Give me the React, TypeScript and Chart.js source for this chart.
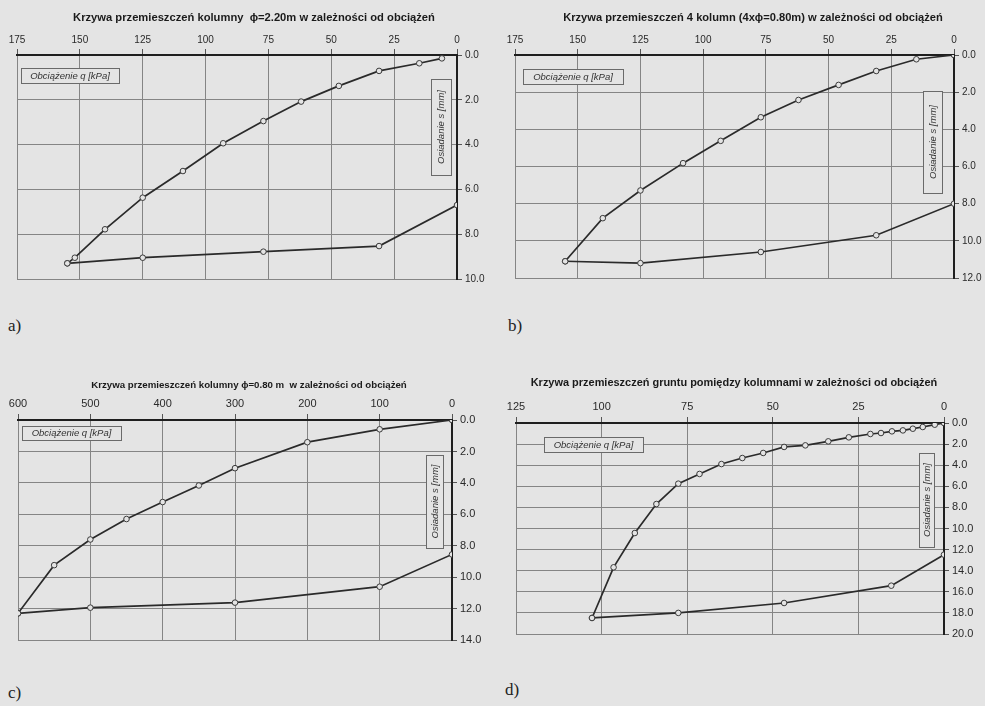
import React, { useEffect, useRef } from "react";
import { Chart, registerables } from "chart.js";
Chart.register(...registerables);

// ---- data (q [kPa], s [mm]) ----
const aLoadQ = [6, 15, 31, 47, 62, 77, 93, 109, 125, 140, 152, 155];
const aLoadS = [0.15, 0.37, 0.71, 1.38, 2.08, 2.95, 3.94, 5.18, 6.37, 7.78, 9.05, 9.3];
const aUnloadQ = [155, 125, 77, 31, 0];
const aUnloadS = [9.3, 9.05, 8.78, 8.53, 6.7];

const bLoadQ = [0, 15, 31, 46, 62, 77, 93, 108, 125, 140, 155];
const bLoadS = [0, 0.23, 0.86, 1.61, 2.42, 3.35, 4.62, 5.82, 7.29, 8.78, 11.1];
const bUnloadQ = [155, 125, 77, 31, 0];
const bUnloadS = [11.1, 11.2, 10.6, 9.7, 8.0];

const cLoadQ = [0, 100, 200, 300, 350, 400, 450, 500, 550, 600];
const cLoadS = [0, 0.59, 1.41, 3.06, 4.16, 5.21, 6.29, 7.59, 9.22, 12.28];
const cUnloadQ = [600, 500, 300, 100, 0];
const cUnloadS = [12.28, 11.92, 11.6, 10.59, 8.54];

const dLoadQ = [0, 2.7, 6.2, 9.1, 12, 15.2, 18.4, 21.5, 27.8, 33.8, 40.5, 46.7, 52.8, 58.9, 65, 71.4, 77.6, 84, 90.3, 96.5, 102.8];
const dLoadS = [0, 0.16, 0.38, 0.54, 0.7, 0.79, 0.95, 1.04, 1.36, 1.74, 2.12, 2.27, 2.84, 3.32, 3.89, 4.83, 5.75, 7.68, 10.43, 13.68, 18.48];
const dUnloadQ = [102.8, 77.6, 46.7, 15.4, 0];
const dUnloadS = [18.48, 18.0, 17.06, 15.42, 12.48];

const titles = [
  "Krzywa przemieszczeń kolumny  ϕ=2.20m w zależności od obciążeń",
  "Krzywa przemieszczeń 4 kolumn (4xϕ=0.80m) w zależności od obciążeń",
  "Krzywa przemieszczeń kolumny ϕ=0.80 m  w zależności od obciążeń",
  "Krzywa przemieszczeń gruntu pomiędzy kolumnami w zależności od obciążeń",
];
const xLabel = "Obciążenie q [kPa]";
const yLabel = "Osiadanie s [mm]";
const panelLetters = ["a)", "b)", "c)", "d)"];

const xMaxes = [175, 175, 600, 125];
const xSteps = [25, 25, 100, 25];
const yMaxes = [10, 12, 14, 20];
const ySteps = [2, 2, 2, 2];

const BG = "#e4e4e4";

type Layout = {
  left: number; top: number; w: number; h: number;
  plotL: number; plotR: number; plotT: number; plotB: number;
  titleX: number; titleY: number; titleW: number;
  qBox: [number, number, number, number];
  sBox: [number, number, number, number];
  tickFont: number;
  letter: [number, number];
};

const layouts: Layout[] = [
  { left: 0, top: 0, w: 490, h: 292, plotL: 17, plotR: 457, plotT: 55, plotB: 279,
    titleX: 254, titleY: 18, titleW: 362, qBox: [21, 68, 119, 83], sBox: [431, 79, 451, 175], tickFont: 10, letter: [8, 326] },
  { left: 490, top: 0, w: 495, h: 292, plotL: 515, plotR: 954, plotT: 55, plotB: 278,
    titleX: 753, titleY: 18, titleW: 380, qBox: [523, 69, 623, 84], sBox: [923, 91, 942, 193], tickFont: 10, letter: [508, 326] },
  { left: 0, top: 345, w: 490, h: 305, plotL: 18, plotR: 452, plotT: 420, plotB: 641,
    titleX: 249, titleY: 385, titleW: 316, qBox: [22, 426, 121, 440], sBox: [426, 455, 443, 548], tickFont: 11, letter: [8, 693] },
  { left: 490, top: 345, w: 495, h: 300, plotL: 516, plotR: 944, plotT: 423, plotB: 634,
    titleX: 734, titleY: 383, titleW: 407, qBox: [544, 437, 643, 452], sBox: [919, 453, 934, 547], tickFont: 11, letter: [505, 690] },
];

const series = [
  [aLoadQ, aLoadS, aUnloadQ, aUnloadS],
  [bLoadQ, bLoadS, bUnloadQ, bUnloadS],
  [cLoadQ, cLoadS, cUnloadQ, cUnloadS],
  [dLoadQ, dLoadS, dUnloadQ, dUnloadS],
];

const zip = (q: number[], s: number[]) => q.map((v, i) => ({ x: v, y: s[i] }));

const textPlugin = {
  id: "texts",
  afterDraw(chart: any, _args: any, opts: any) {
    const ctx = chart.ctx as CanvasRenderingContext2D;
    const L: Layout = opts.layout;
    const ox = L.left, oy = L.top;
    ctx.save();
    // title fitted to width
    ctx.font = `bold 10px "Liberation Sans", Arial, sans-serif`;
    const m = ctx.measureText(opts.title).width;
    const fs = (10 * L.titleW) / m;
    ctx.font = `bold ${fs.toFixed(2)}px "Liberation Sans", Arial, sans-serif`;
    ctx.fillStyle = "#1a1a1a";
    ctx.textAlign = "center";
    ctx.textBaseline = "middle";
    ctx.fillText(opts.title, L.titleX - ox, L.titleY - oy);

    // q label box
    const [qx1, qy1, qx2, qy2] = L.qBox;
    ctx.fillStyle = BG;
    ctx.fillRect(qx1 - ox, qy1 - oy, qx2 - qx1, qy2 - qy1);
    ctx.strokeStyle = "#6a6a6a";
    ctx.lineWidth = 1;
    ctx.strokeRect(qx1 - ox + 0.5, qy1 - oy + 0.5, qx2 - qx1, qy2 - qy1);
    ctx.font = `italic 9.5px "Liberation Sans", Arial, sans-serif`;
    ctx.fillStyle = "#333";
    ctx.fillText(opts.xLabel, (qx1 + qx2) / 2 - ox, (qy1 + qy2) / 2 - oy + 0.5);

    // s label box (vertical)
    const [sx1, sy1, sx2, sy2] = L.sBox;
    ctx.fillStyle = BG;
    ctx.fillRect(sx1 - ox, sy1 - oy, sx2 - sx1, sy2 - sy1);
    ctx.strokeRect(sx1 - ox + 0.5, sy1 - oy + 0.5, sx2 - sx1, sy2 - sy1);
    ctx.translate((sx1 + sx2) / 2 - ox, (sy1 + sy2) / 2 - oy);
    ctx.rotate(-Math.PI / 2);
    ctx.fillStyle = "#333";
    ctx.fillText(opts.yLabel, 0, 0.5);
    ctx.restore();
  },
};

function Panel({ idx }: { idx: number }) {
  const ref = useRef<HTMLCanvasElement | null>(null);
  const L = layouts[idx];
  useEffect(() => {
    if (!ref.current) return;
    const [lq, ls, uq, us] = series[idx];
    const xH = L.plotT - L.top;
    const yW = L.left + L.w - L.plotR;
    const padL = L.plotL - L.left;
    const padB = L.top + L.h - L.plotB;
    const tickFont = { size: L.tickFont, family: '"Liberation Sans", Arial, sans-serif' };
    const ds = (q: number[], s: number[]) => ({
      data: zip(q, s), showLine: true, borderColor: "#2a2a2a", borderWidth: 1.7,
      pointRadius: 2.8, pointBackgroundColor: BG, pointBorderColor: "#3a3a3a", pointBorderWidth: 1,
    });
    const chart = new Chart(ref.current, {
      type: "scatter",
      data: { datasets: [ds(lq, ls), ds(uq, us)] },
      options: {
        animation: false,
        responsive: false,
        maintainAspectRatio: false,
        layout: { padding: { left: padL, right: 0, top: 0, bottom: padB } },
        plugins: {
          legend: { display: false },
          tooltip: { enabled: false },
          title: { display: false },
          // @ts-ignore
          texts: { layout: L, title: titles[idx], xLabel, yLabel },
        },
        scales: {
          x: {
            type: "linear", position: "top", reverse: true, min: 0, max: xMaxes[idx],
            ticks: { stepSize: xSteps[idx], font: tickFont, color: "#2a2a2a", padding: 3, maxRotation: 0, autoSkip: false },
            grid: { color: "#858585", lineWidth: 1, tickLength: 6, tickColor: "#555" },
            border: { color: "#1e1e1e", width: 2 },
            afterFit: (s: any) => { s.height = xH; },
          },
          y: {
            type: "linear", position: "right", reverse: true, min: 0, max: yMaxes[idx],
            ticks: { stepSize: ySteps[idx], font: tickFont, color: "#2a2a2a", padding: 3,
              callback: (v: any) => Number(v).toFixed(1) },
            grid: { color: "#858585", lineWidth: 1, tickLength: 5, tickColor: "#555" },
            border: { color: "#1e1e1e", width: 2 },
            afterFit: (s: any) => { s.width = yW; },
          },
        },
      },
      plugins: [textPlugin],
    } as any);
    return () => chart.destroy();
  }, [idx]);
  return (
    <canvas
      ref={ref}
      width={L.w}
      height={L.h}
      style={{ position: "absolute", left: L.left, top: L.top, width: L.w, height: L.h }}
    />
  );
}

export default function App() {
  return (
    <div style={{ position: "absolute", left: 0, top: 0, width: 985, height: 706, background: BG, overflow: "hidden" }}>
      {layouts.map((_, i) => (
        <Panel key={i} idx={i} />
      ))}
      {layouts.map((L, i) => (
        <div
          key={"l" + i}
          style={{
            position: "absolute", left: L.letter[0], top: L.letter[1] - 11,
            fontFamily: '"Liberation Serif", "Times New Roman", serif', fontSize: 17, color: "#222", lineHeight: "22px",
          }}
        >
          {panelLetters[i]}
        </div>
      ))}
    </div>
  );
}
